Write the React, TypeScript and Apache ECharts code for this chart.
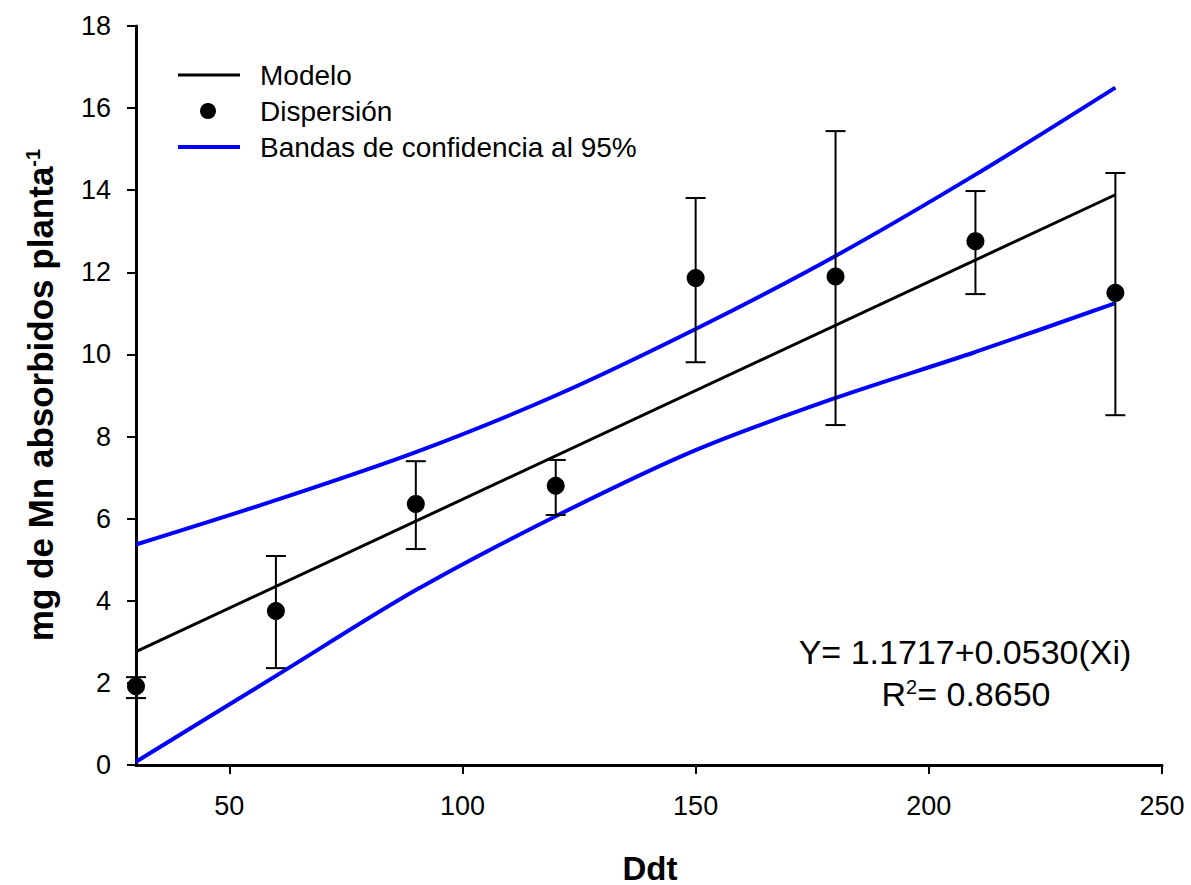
import React, { useEffect, useRef } from "react";
import * as echarts from "echarts";

// ---- data ----
const xDays = [30, 60, 90, 120, 150, 180, 210, 240];
const meanMn = [1.92, 3.75, 6.36, 6.8, 11.86, 11.9, 12.76, 11.5];
const errLow = [1.63, 2.36, 5.26, 6.09, 9.81, 8.28, 11.47, 8.52];
const errHigh = [2.14, 5.09, 7.4, 7.43, 13.81, 15.44, 13.98, 14.42];
const upperBand = [5.37, 6.45, 7.62, 9.0, 10.62, 12.4, 14.38, 16.5];
const lowerBand = [0.08, 2.17, 4.26, 6.06, 7.67, 8.94, 10.06, 11.25];
const modelX = [30, 240];
const modelY = [2.76, 13.89];
const xTicks = [50, 100, 150, 200, 250];

const FONT = "'Liberation Sans', Arial, Helvetica, sans-serif";

export default function App() {
  const ref = useRef<HTMLDivElement>(null);

  useEffect(() => {
    if (!ref.current) return;
    const chart = echarts.init(ref.current, null, { renderer: "svg" });

    const pairs = (xs: number[], ys: number[]) => xs.map((x, i) => [x, ys[i]]);

    const option: any = {
      animation: false,
      backgroundColor: "#ffffff",
      textStyle: { fontFamily: FONT },
      grid: { left: 136, top: 26, right: 29, bottom: 120, containLabel: false },
      xAxis: {
        type: "value",
        min: 30,
        max: 250,
        axisLine: { show: true, lineStyle: { color: "#000", width: 3 } },
        axisTick: {
          show: true,
          length: 9,
          inside: false,
          customValues: xTicks,
          lineStyle: { color: "#000", width: 2 },
        },
        axisLabel: {
          customValues: xTicks,
          color: "#000",
          fontSize: 27,
          fontFamily: FONT,
          margin: 27,
        },
        splitLine: { show: false },
      },
      yAxis: {
        type: "value",
        min: 0,
        max: 18,
        interval: 2,
        axisLine: { show: true, lineStyle: { color: "#000", width: 3 } },
        axisTick: { show: true, length: 9, inside: false, lineStyle: { color: "#000", width: 2 } },
        axisLabel: { color: "#000", fontSize: 27, fontFamily: FONT, margin: 25 },
        splitLine: { show: false },
      },
      series: [
        {
          name: "Modelo",
          type: "line",
          data: pairs(modelX, modelY),
          showSymbol: false,
          symbol: "none",
          lineStyle: { color: "#000", width: 3 },
          z: 2,
        },
        {
          name: "Bandas de confidencia al 95%",
          type: "line",
          data: pairs(xDays, upperBand),
          smooth: 0.3,
          symbol: "none",
          lineStyle: { color: "#0000ff", width: 4 },
          z: 2,
        },
        {
          name: "Bandas inferior",
          type: "line",
          data: pairs(xDays, lowerBand),
          smooth: 0.3,
          symbol: "none",
          lineStyle: { color: "#0000ff", width: 4 },
          z: 2,
        },
        {
          name: "Error",
          type: "custom",
          data: xDays.map((x, i) => [x, errLow[i], errHigh[i]]),
          renderItem: (params: any, api: any) => {
            const x = api.value(0);
            const lo = api.coord([x, api.value(1)]);
            const hi = api.coord([x, api.value(2)]);
            const hw = 10;
            const style = { stroke: "#000", lineWidth: 2 };
            return {
              type: "group",
              children: [
                { type: "line", shape: { x1: lo[0], y1: lo[1], x2: hi[0], y2: hi[1] }, style },
                { type: "line", shape: { x1: lo[0] - hw, y1: lo[1], x2: lo[0] + hw, y2: lo[1] }, style },
                { type: "line", shape: { x1: hi[0] - hw, y1: hi[1], x2: hi[0] + hw, y2: hi[1] }, style },
              ],
            };
          },
          z: 3,
        },
        {
          name: "Dispersión",
          type: "scatter",
          data: pairs(xDays, meanMn),
          symbol: "circle",
          symbolSize: 18,
          itemStyle: { color: "#000", opacity: 1 },
          z: 4,
        },
      ],
      graphic: [
        // legend
        { type: "line", shape: { x1: 178, y1: 75, x2: 240, y2: 75 }, style: { stroke: "#000", lineWidth: 3 } },
        { type: "circle", shape: { cx: 208, cy: 111, r: 8 }, style: { fill: "#000" } },
        { type: "line", shape: { x1: 178, y1: 147, x2: 240, y2: 147 }, style: { stroke: "#0000ff", lineWidth: 4 } },
        { type: "text", x: 260, y: 75, style: { text: "Modelo", fontSize: 28, fontFamily: FONT, fill: "#000", verticalAlign: "middle" } },
        { type: "text", x: 260, y: 111, style: { text: "Dispersión", fontSize: 28, fontFamily: FONT, fill: "#000", verticalAlign: "middle" } },
        { type: "text", x: 260, y: 147, style: { text: "Bandas de confidencia al 95%", fontSize: 28, fontFamily: FONT, fill: "#000", verticalAlign: "middle" } },
        // equation
        {
          type: "text",
          x: 965,
          y: 652,
          style: { text: "Y= 1.1717+0.0530(Xi)", fontSize: 34, fontFamily: FONT, fill: "#000", align: "center", verticalAlign: "middle" },
        },
        {
          type: "text",
          x: 966,
          y: 694,
          style: {
            text: "{a|R}{b|2}{a|= 0.8650}",
            align: "center",
            verticalAlign: "middle",
            rich: {
              a: { fontSize: 34, fontFamily: FONT, fill: "#000", color: "#000" },
              b: { fontSize: 20, fontFamily: FONT, fill: "#000", color: "#000", verticalAlign: "top" },
            },
          },
        },
        // axis titles
        {
          type: "text",
          x: 650,
          y: 868,
          style: { text: "Ddt", fontSize: 33, fontWeight: "bold", fontFamily: FONT, fill: "#000", align: "center", verticalAlign: "middle" },
        },
        {
          type: "text",
          x: 40,
          y: 395,
          rotation: Math.PI / 2,
          style: {
            text: "{a|mg de Mn absorbidos planta}{b|-1}",
            align: "center",
            verticalAlign: "middle",
            rich: {
              a: { fontSize: 35, fontWeight: "bold", fontFamily: FONT, fill: "#000", color: "#000" },
              b: { fontSize: 20, fontWeight: "bold", fontFamily: FONT, fill: "#000", color: "#000", verticalAlign: "top" },
            },
          },
        },
      ],
    };

    chart.setOption(option);
    return () => chart.dispose();
  }, []);

  return (
    <div
      ref={ref}
      style={{ position: "absolute", left: 0, top: 0, width: 1191, height: 885, background: "#fff" }}
    />
  );
}
